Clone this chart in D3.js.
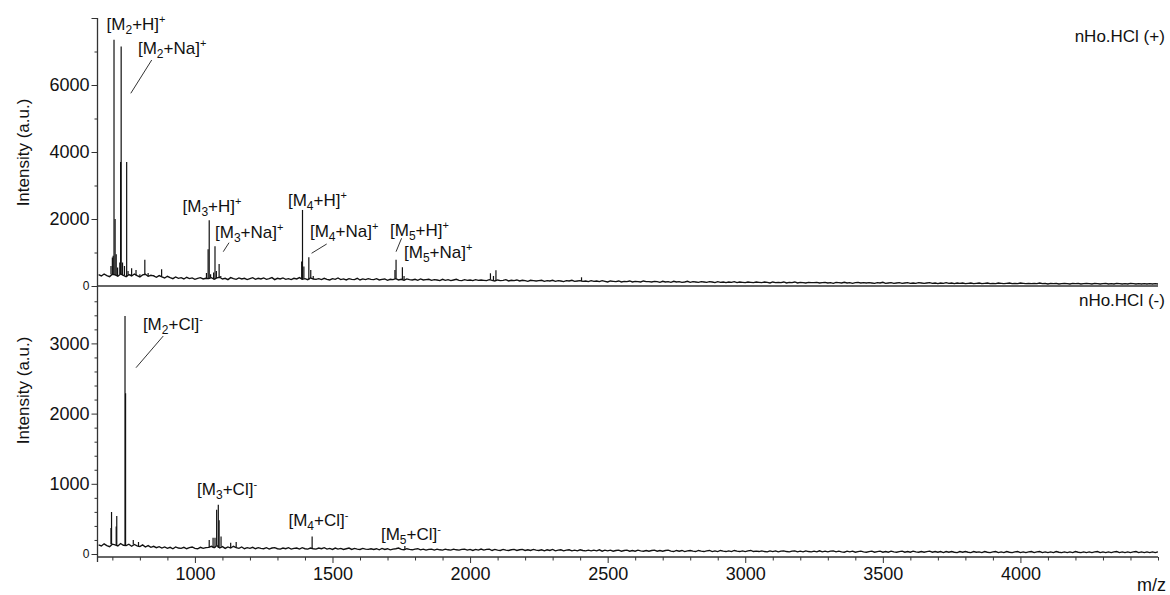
<!DOCTYPE html>
<html><head><meta charset="utf-8">
<script src="https://cdn.jsdelivr.net/npm/d3@7"></script>
<style>
body{margin:0;background:#fff;}
svg text{font-family:"Liberation Sans",Arial,sans-serif;fill:#111;}
</style></head><body>
<svg id="c" width="1170" height="595"></svg>
<script>
// ---------- DATA ----------
const mzStart = 650, mzStep = 10;   // baseline sampling of the spectra
const topBaseline = [
340,300,360,310,280,350,330,290,360,320,280,340,300,360,310,270,330,350,290,320,
300,260,310,270,240,290,250,220,270,230,250,210,260,220,240,200,230,250,210,230,
220,250,200,240,260,210,230,190,250,220,200,240,210,230,190,220,250,200,230,210,
240,200,220,250,190,230,210,240,200,220,190,230,210,250,200,220,190,240,210,200,
220,190,230,200,180,220,200,240,190,210,180,220,200,190,230,180,210,190,220,200,
190,220,180,200,210,170,200,190,220,180,200,170,210,190,180,200,170,210,180,190,
200,170,190,180,160,200,170,190,160,180,200,170,160,190,170,180,160,190,170,180,
170,160,190,170,150,180,160,170,190,150,170,160,180,150,170,160,140,170,160,150,
160,170,140,160,150,170,140,160,150,130,160,150,170,140,150,160,140,150,130,160,
140,150,130,160,140,120,150,140,130,150,120,140,130,150,120,140,130,120,150,130,
130,120,140,130,110,140,120,130,110,140,120,130,110,120,140,110,130,120,110,130,
120,110,130,120,100,130,110,120,100,120,110,130,100,120,110,100,120,110,100,120,
110,100,120,110,90,120,100,110,100,120,90,110,100,120,90,110,100,90,110,100,
100,110,90,100,110,90,100,80,110,100,90,110,90,100,80,100,110,90,100,90,
100,90,80,100,90,110,80,90,100,80,90,100,80,90,100,80,90,80,100,90,
80,90,100,80,90,70,90,80,100,80,90,70,90,80,90,70,80,90,70,80,
90,70,80,90,70,80,70,90,80,70,80,90,70,80,70,90,80,70,80,70,
80,70,90,70,80,60,80,70,80,60,70,80,70,60,80,70,80,60,70,80,
70,60,80,70,60,70,80,60,70,60,80,70,60,70,60,80,70,60,70,60,
70,60,70,60,70,60];
const bottomBaseline = [
130,115,145,120,105,140,130,115,150,125,120,140,110,135,115,105,130,100,120,95,
110,90,105,85,100,80,95,75,100,85,80,95,75,90,100,80,75,95,80,90,
95,110,90,120,85,105,80,100,85,110,90,80,100,75,90,80,95,75,90,80,
75,90,70,85,90,75,70,85,75,90,70,80,85,70,90,75,70,85,75,70,
85,75,90,70,80,65,85,70,80,65,75,85,65,80,70,65,80,70,65,75,
65,75,60,80,65,75,60,70,75,85,65,60,75,65,60,70,75,60,70,55,
65,70,55,70,60,55,70,60,55,70,60,55,65,70,55,65,50,65,55,70,
55,65,70,50,65,55,50,65,55,50,60,65,50,60,65,50,60,50,65,55,
50,60,45,60,50,65,45,55,60,45,55,60,45,55,45,60,50,45,55,45,
55,45,60,40,55,45,55,40,50,55,40,50,55,40,50,40,55,45,40,50,
40,50,55,40,50,40,50,55,40,35,50,40,50,35,45,50,40,35,50,40,
35,45,50,35,45,35,50,40,35,45,35,50,40,35,45,35,45,50,35,40,
35,45,35,30,45,35,45,30,40,45,35,30,40,45,30,40,30,45,35,30,
40,30,45,30,40,30,40,45,30,40,30,25,40,30,40,25,35,40,30,25,
35,40,25,35,40,25,35,25,40,30,25,35,40,25,35,25,40,30,25,35,
25,35,40,25,35,25,35,20,35,25,35,25,20,35,25,35,25,20,35,25,
30,20,35,25,20,30,35,20,30,20,35,25,20,30,35,20,30,20,30,35,
20,30,35,20,30,20,30,20,35,25,20,30,20,30,20,35,25,20,30,20,
30,20,30,35,20,30,20,30,20,30,35,20,30,20,30,20,30,35,20,30,
20,30,20,30,20,30];
// peaks [m/z, intensity]
const topPeaks = [
[695,600],[700,850],[703,900],[706,7350],[710,2000],[714,950],[719,550],
[727,700],[730,3700],[732,7150],[737,700],[744,600],[752,3700],[757,450],
[764,330],[770,530],[786,480],[800,350],[818,780],[830,390],[850,330],[879,500],
[1042,390],[1048,1100],[1052,1960],[1057,350],[1068,400],[1073,1190],[1078,450],[1088,660],[1094,300],
[1388,730],[1391,2270],[1396,580],[1414,860],[1421,480],[1430,300],
[1727,480],[1731,780],[1754,560],[1760,300],
[2074,380],[2085,300],[2094,470],[2405,260]];
const bottomPeaks = [
[695,370],[697,600],[714,390],[716,540],[746,3390],[748,2290],[776,200],[795,170],
[1052,200],[1066,230],[1073,230],[1079,630],[1085,700],[1088,480],[1095,250],[1130,160],[1150,170],
[1426,250],[1763,115]];
const xMajorTicks = [1000,1500,2000,2500,3000,3500,4000];
const topYMajor = [0,2000,4000,6000,8000];
const topYLabels = [0,2000,4000,6000];
const topYMinor = [1000,3000,5000,7000];
const botYMajor = [0,1000,2000,3000];
const botYMinor = [200,400,600,800,1200,1400,1600,1800,2200,2400,2600,2800,3200,3400,3600];
// annotations: oligomer n, adduct, charge, anchor (m/z, intensity)
const topAnn = [
 {n:2,a:"H", c:"+",mz:679, v:7640},
 {n:2,a:"Na",c:"+",mz:793, v:6925},
 {n:3,a:"H", c:"+",mz:955, v:2210},
 {n:3,a:"Na",c:"+",mz:1073,v:1433},
 {n:4,a:"H", c:"+",mz:1338,v:2388},
 {n:4,a:"Na",c:"+",mz:1418,v:1463},
 {n:5,a:"H", c:"+",mz:1709,v:1493},
 {n:5,a:"Na",c:"+",mz:1760,v:836}];
const topLeaders = [[843,6746,767,5752],[1124,1293,1103,1024],[1479,1254,1424,977],[1751,1424,1731,1024]];
const botAnn = [
 {n:2,a:"Cl",c:"-",mz:811, v:3191},
 {n:3,a:"Cl",c:"-",mz:1008,v:840},
 {n:4,a:"Cl",c:"-",mz:1340,v:399},
 {n:5,a:"Cl",c:"-",mz:1676,v:199}];
const botLeaders = [[885,3105,786,2654]];
const panelTitles = ["nHo.HCl (+)","nHo.HCl (-)"];

// ---------- CHART ----------
const svg = d3.select("#c");
const X0 = 97.5, X1 = 1158;
const x = d3.scaleLinear().domain([646,4500]).range([X0,X1]);
const yTop = d3.scaleLinear().domain([0,8000]).range([286,18]);
const yBot = d3.scaleLinear().domain([0,3000]).range([554,343.4]);
const xAxisY = 557;
const ink = "#111";

svg.append("defs").append("clipPath").attr("id","clip")
  .append("rect").attr("x",X0).attr("y",0).attr("width",X1-X0).attr("height",595);

function drawSpectrum(base, peaks, y) {
  const pts = base.map((v,i)=>[mzStart+i*mzStep, v]);
  const g = svg.append("g").attr("clip-path","url(#clip)");
  g.append("path").datum(pts)
    .attr("d", d3.line().x(d=>x(d[0])).y(d=>y(d[1])))
    .attr("fill","none").attr("stroke",ink).attr("stroke-width",1.35);
  g.selectAll("line.pk").data(peaks).join("line").attr("class","pk")
    .attr("x1",d=>x(d[0])).attr("x2",d=>x(d[0]))
    .attr("y1",d=>{const i=Math.max(0,Math.min(base.length-1,Math.round((d[0]-mzStart)/mzStep)));return y(base[i]);})
    .attr("y2",d=>y(d[1]))
    .attr("stroke",ink).attr("stroke-width",1.2);
}
drawSpectrum(topBaseline, topPeaks, yTop);
drawSpectrum(bottomBaseline, bottomPeaks, yBot);

// top panel baseline axis line
svg.append("line").attr("x1",X0).attr("x2",X1).attr("y1",yTop(0)).attr("y2",yTop(0))
  .attr("stroke","#333").attr("stroke-width",1.3);

// x axis
function styleAxis(g){ g.select(".domain").remove(); g.selectAll("line").attr("stroke","#333"); g.attr("font-family",null).attr("font-size",null);}
const gxMinor = svg.append("g").attr("transform",`translate(0,${xAxisY})`)
  .call(d3.axisBottom(x).tickValues(d3.range(700,4501,100).filter(v=>!xMajorTicks.includes(v))).tickSize(3.5).tickFormat(""));
styleAxis(gxMinor);
const gxMajor = svg.append("g").attr("transform",`translate(0,${xAxisY})`)
  .call(d3.axisBottom(x).tickValues(xMajorTicks).tickSize(6).tickPadding(4).tickFormat(d3.format("d")));
styleAxis(gxMajor);
gxMajor.selectAll("text").attr("font-size",18).attr("fill",ink);
svg.append("line").attr("x1",X0).attr("x2",X1).attr("y1",xAxisY).attr("y2",xAxisY)
  .attr("stroke","#333").attr("stroke-width",1.3);
svg.append("text").attr("x",x(4500)-21).attr("y",591).attr("font-size",18).text("m/z");

// y axes
function yAxis(scale, major, labels, minor){
  const gm = svg.append("g").attr("transform",`translate(${X0},0)`)
    .call(d3.axisLeft(scale).tickValues(minor).tickSize(3).tickFormat(""));
  styleAxis(gm);
  const gM = svg.append("g").attr("transform",`translate(${X0},0)`)
    .call(d3.axisLeft(scale).tickValues(major).tickSize(6).tickPadding(2).tickFormat(d=>labels.includes(d)?d:""));
  styleAxis(gM);
  gM.selectAll("text").attr("font-size",d=>d===0?12:18).attr("fill",ink);
}
yAxis(yTop, topYMajor, topYLabels, topYMinor);
yAxis(yBot, botYMajor, botYMajor, botYMinor);
svg.append("line").attr("x1",X0).attr("x2",X0).attr("y1",yTop(8000)).attr("y2",562)
  .attr("stroke","#333").attr("stroke-width",1.3);

// y titles
[[yTop,4000],[yBot,2330]].forEach(([s,v])=>{
  svg.append("text").attr("transform",`translate(29,${s(v)+(s===yTop?0.5:0)}) rotate(-90)`)
    .attr("text-anchor","middle").attr("font-size",17).text("Intensity (a.u.)");
});

// annotations
function ann(list, y){
  list.forEach(d=>{
    const t = svg.append("text").attr("x",x(d.mz)).attr("y",y(d.v)).attr("font-size",17);
    t.append("tspan").text("[M");
    t.append("tspan").attr("font-size",12).attr("dy",4).text(d.n);
    t.append("tspan").attr("dy",-4).text("+"+d.a+"]");
    t.append("tspan").attr("font-size",11).attr("dy",-7).text(d.c);
  });
}
ann(topAnn, yTop); ann(botAnn, yBot);
function leaders(list, y){
  svg.selectAll(null).data(list).join("line")
    .attr("x1",d=>x(d[0])).attr("y1",d=>y(d[1])).attr("x2",d=>x(d[2])).attr("y2",d=>y(d[3]))
    .attr("stroke","#333").attr("stroke-width",1);
}
leaders(topLeaders, yTop); leaders(botLeaders, yBot);

// panel titles
svg.append("text").attr("x",x(4525)).attr("y",yTop(7284)).attr("text-anchor","end").attr("font-size",17).text(panelTitles[0]);
svg.append("text").attr("x",x(4525)).attr("y",yBot(3533)).attr("text-anchor","end").attr("font-size",17).text(panelTitles[1]);
</script>
</body></html>
